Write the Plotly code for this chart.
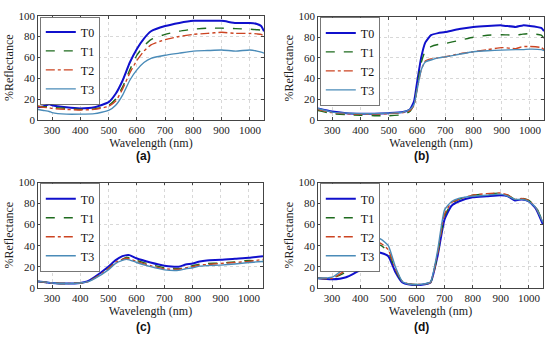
import plotly.graph_objects as go

# ---------------- data ----------------
wl_a = [250, 270, 290, 300, 350, 400, 450, 500, 525, 550, 575, 600, 625, 650, 700, 750, 800, 850, 900, 950, 1000, 1025, 1040, 1050]
a_T0 = [12, 13, 15, 14, 12, 11, 12, 17, 25, 38, 55, 68, 78, 85, 90, 93, 95, 95, 95, 93, 93, 92, 90, 85]
a_T1 = [13, 12.5, 12.5, 12, 11, 10, 10.5, 14, 20, 32, 48, 62, 71, 77, 82, 85, 87, 88, 88, 87.5, 87, 86.5, 86, 82]
a_T2 = [13, 12, 11.5, 11, 10, 9.5, 10, 13, 18, 30, 45, 57, 66, 72, 77, 80, 82, 83, 84, 83, 83, 82.5, 82, 80]
a_T3 = [10, 9, 8, 7, 5.5, 5.5, 6, 9, 14, 24, 38, 48, 55, 59, 62, 64, 66, 66.5, 67, 66, 67, 66, 65, 64]

wl_b = [250, 300, 350, 400, 450, 500, 550, 575, 590, 600, 615, 630, 650, 675, 700, 750, 800, 850, 900, 950, 975, 1000, 1040, 1050]
b_T0 = [11, 8, 6.5, 6, 6, 6.5, 7.5, 10, 18, 35, 60, 75, 82, 84, 85, 88, 90, 91, 91.5, 90, 91.5, 91, 89, 86]
b_T1 = [9, 6, 5, 4.5, 4, 4, 5, 8, 15, 30, 55, 67, 71, 73, 74, 77, 80, 82, 82.5, 82, 83, 83.5, 82, 79]
b_T2 = [10, 7, 6, 5.5, 5.5, 6, 7, 9, 14, 28, 48, 57, 59, 60, 61, 64, 66, 68, 70, 69, 71, 71, 70, 68]
b_T3 = [11, 7.5, 6.5, 6, 6, 6.5, 7.5, 10, 15, 28, 48, 56, 58, 60, 61, 63.5, 66, 67, 67.5, 68, 68, 68.5, 68, 67]

wl_c = [250, 300, 350, 400, 425, 450, 500, 525, 550, 565, 575, 600, 650, 700, 750, 775, 800, 825, 850, 900, 950, 1000, 1050]
c_T0 = [6, 4.5, 4, 4.5, 6, 10, 20, 26, 30, 31, 31, 28, 24, 21, 20, 22, 23, 25, 26, 26.5, 27.5, 28.5, 30]
c_T1 = [6, 4.5, 4, 4.5, 5.5, 9, 18, 24, 27, 29, 28.5, 26, 22, 19, 18, 19.5, 21, 22.5, 23, 23.5, 24.5, 26, 25]
c_T2 = [6, 4.5, 4, 4.5, 5.5, 9, 18, 24, 27, 28, 27.5, 25, 21, 18, 17.5, 19, 20, 21.5, 22, 23, 24, 25, 27]
c_T3 = [6, 4.5, 4, 4.5, 5.5, 8.5, 17, 23, 26, 27, 26.5, 24, 20, 17, 16.5, 18, 19, 20.5, 21, 21.5, 22.5, 24, 25]

wl_d = [250, 300, 350, 400, 430, 450, 475, 500, 525, 550, 575, 600, 625, 650, 675, 700, 725, 750, 800, 850, 900, 925, 950, 975, 1000, 1025, 1050]
d_T0 = [9, 8, 10, 17, 28, 34, 33, 30, 15, 5, 3, 2.5, 3, 5, 30, 65, 78, 82, 86, 87, 88, 87, 83, 84, 82, 75, 60]
d_T1 = [9, 9, 15, 26, 37, 42, 40, 34, 17, 5.5, 3.5, 3, 3.5, 5, 31, 68, 80, 84, 88, 89, 90, 88, 84, 85, 83, 77, 62]
d_T2 = [9, 9, 17, 28, 39, 44, 42, 36, 18, 6, 3.5, 3, 3.5, 5, 32, 70, 81, 84, 88, 89.5, 90, 88, 84, 85, 83, 76, 62]
d_T3 = [9, 10, 20, 33, 43, 48, 46, 40, 20, 6, 3.5, 3, 3.5, 5.5, 35, 74, 82, 85, 87, 88, 89, 87, 84, 84, 82, 76, 62]

series_names = ["T0", "T1", "T2", "T3"]
panel_labels = ["(a)", "(b)", "(c)", "(d)"]
x_ticks = [300, 400, 500, 600, 700, 800, 900, 1000]
y_ticks = [0, 20, 40, 60, 80, 100]

# ---------------- styling ----------------
colors = ["#1010CC", "#1E6B1E", "#CC4422", "#4A8BB8"]
dashes = ["solid", "dash", "dashdot", "solid"]
widths = [2.0, 1.4, 1.4, 1.4]
FONT = "Liberation Serif"

panels = [
    (wl_a, [a_T0, a_T1, a_T2, a_T3]),
    (wl_b, [b_T0, b_T1, b_T2, b_T3]),
    (wl_c, [c_T0, c_T1, c_T2, c_T3]),
    (wl_d, [d_T0, d_T1, d_T2, d_T3]),
]

W, H = 550, 341
# plot-area pixel boxes (left, right, top, bottom)
boxes = [(38, 264, 10, 118), (318, 544, 11, 118), (38, 263, 183, 292), (318, 543, 183, 292)]
label_pos = [(143, 155), (422, 155), (143, 333), (422, 333)]

fig = go.Figure()
layout = {}
for i, ((wl, vals), box) in enumerate(zip(panels, boxes)):
    n = "" if i == 0 else str(i + 1)
    xa, ya = "x" + n, "y" + n
    leg = "legend" + n
    for j in range(4):
        fig.add_trace(go.Scatter(
            x=wl, y=vals[j], name=series_names[j], mode="lines",
            line=dict(color=colors[j], dash=dashes[j], width=widths[j], shape="spline", smoothing=0.5),
            xaxis=xa, yaxis=ya, legend=leg, showlegend=True,
        ))
    l, r, t, b = box
    axis_common = dict(
        showline=True, linecolor="#444", linewidth=0.8, mirror="ticks",
        ticks="inside", ticklen=3, tickcolor="#444",
        showgrid=True, gridcolor="#d8d8d8", griddash="dot", gridwidth=0.8,
        zeroline=False, tickfont=dict(family=FONT, size=11, color="#222"),
    )
    layout["xaxis" + n] = dict(
        axis_common, domain=[l / W, r / W], range=[250, 1050], tickvals=x_ticks,
        anchor=ya,
        title=dict(text="Wavelength (nm)", font=dict(family=FONT, size=12, color="#222"), standoff=1),
    )
    layout["yaxis" + n] = dict(
        axis_common, domain=[1 - b / H, 1 - t / H], range=[0, 100], tickvals=y_ticks,
        anchor=xa,
        title=dict(text="%Reflectance", font=dict(family=FONT, size=12, color="#222"), standoff=2),
    )
    layout[leg] = dict(
        x=(l + 2) / W, y=1 - (t + 1) / H, xanchor="left", yanchor="top",
        bgcolor="white", bordercolor="#555", borderwidth=0.8,
        font=dict(family=FONT, size=12, color="#111"),
        tracegroupgap=0, itemwidth=30,
    )

annotations = []
for lab, (px, py) in zip(panel_labels, label_pos):
    annotations.append(dict(
        text="<b>" + lab + "</b>", x=px / W, y=1 - py / H, xref="paper", yref="paper",
        showarrow=False, font=dict(family="Liberation Sans", size=12, color="#111"),
        xanchor="center", yanchor="middle",
    ))

fig.update_layout(
    **layout,
    annotations=annotations,
    width=W, height=H,
    font=dict(family=FONT, size=11, color="#222"),
    margin=dict(l=0, r=0, t=0, b=0),
    paper_bgcolor="white", plot_bgcolor="white",
)

fig.write_html(
    "out.html",
    config={"displayModeBar": False},
    post_script="document.body.style.margin='0';document.body.style.overflow='hidden';",
)
